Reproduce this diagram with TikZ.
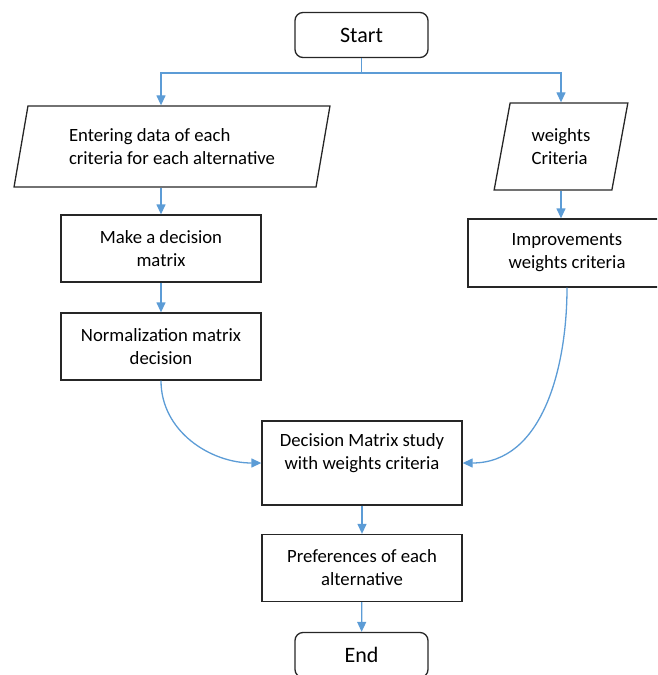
\documentclass[tikz,border=0pt]{standalone}
\usepackage{fontspec}
\setmainfont{Carlito}
\usepackage{tikz}
\usetikzlibrary{arrows.meta}
\usetikzlibrary{shapes.geometric}
\definecolor{lblue}{rgb}{0.36, 0.61, 0.84}
\definecolor{dgray}{rgb}{0.15, 0.15, 0.15}
\tikzset{box/.style = {draw = dgray, line width = 1.3, minimum width = 200, minimum height = 67, align = center, font = \fontsize{18.7}{23}\selectfont}}
\tikzset{term/.style = {draw = dgray, line width = 1.3, rounded corners = 8, minimum width = 133, minimum height = 45, font = \fontsize{22}{26}\selectfont}}
\tikzset{io/.style = {draw = dgray, line width = 1.3, trapezium, trapezium left angle = 76.5, trapezium right angle = 103.5, trapezium stretches = true, align = left, font = \fontsize{18.7}{23}\selectfont}}
\tikzset{flow/.style = {draw = lblue, line width = 1.3, -{Triangle[length = 10pt, width = 9pt]}}}

\begin{document}
\begin{tikzpicture}[x = 1pt, y = -1pt]
      \clip (0, 0) rectangle (657, 675);
      \node [term] (start) at (361.5, 35) {Start};
      \node [io, minimum width = 316, minimum height = 81] (data) at (172, 146.5) {Entering data of each\\criteria for each alternative};
      \node [io, minimum width = 134, minimum height = 87] (weights) at (561, 146.5) {weights\\Criteria};
      \node [box] (make) at (161, 248.5) {Make a decision\\matrix};
      \node [box] (norm) at (161, 346.5) {Normalization matrix\\decision};
      \node [box, minimum width = 198, minimum height = 68] (improve) at (567, 253) {Improvements\\weights criteria};
      \node [box, minimum height = 84] (study) at (362, 463) {Decision Matrix study\\with weights criteria\\\mbox{}};
      \node [box] (pref) at (362, 568) {Preferences of each\\alternative};
      \node [term] (end) at (361.5, 655) {End};
      \coordinate (split) at (361.5, 73);
      \draw [flow, -] (start) -- (split);
      \draw [flow] (split) -| (make.north |- data.north);
      \draw [flow] (split) -| (weights.center |- weights.north);
      \draw [flow] (make.north |- data.south) -- (make.north);
      \draw [flow] (make) -- (norm);
      \draw [flow] (weights.center |- weights.south) -- (weights.center |- improve.north);
      \draw [flow] (norm.south) to [out = -90, in = 180] (study.west);
      \draw [flow] (improve.south) to [out = -90, in = 0] (study.east);
      \draw [flow] (study) -- (pref);
      \draw [flow] (pref) -- (end);
    \end{tikzpicture}
\end{document}
